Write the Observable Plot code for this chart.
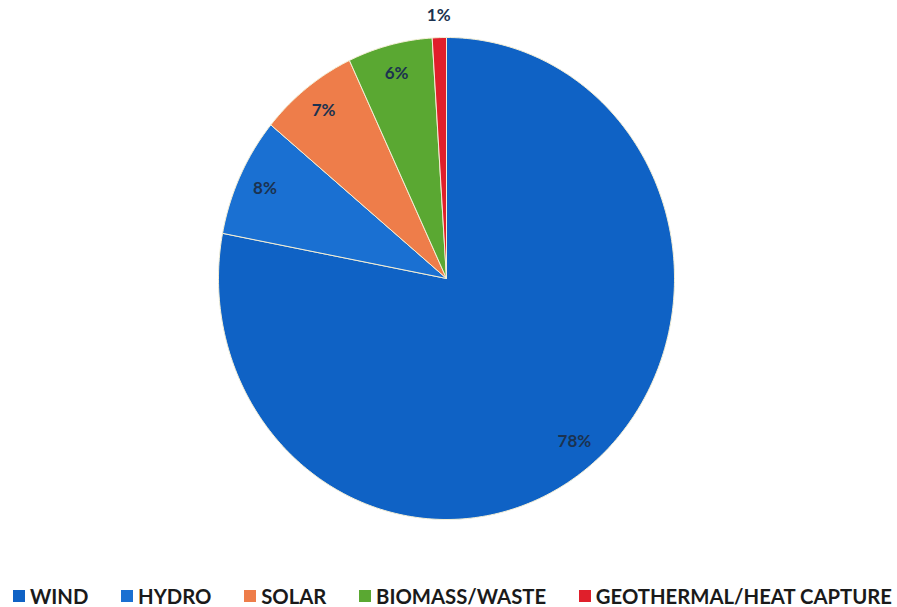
<!DOCTYPE html>
<html>
<head>
<meta charset="utf-8">
<script src="https://cdn.jsdelivr.net/npm/d3@7"></script>
<script src="https://cdn.jsdelivr.net/npm/@observablehq/plot@0.6"></script>
<style>
  html, body { margin: 0; padding: 0; background: #fff; }
  #chart { width: 897px; height: 607px; overflow: hidden; }
  .lg-swatches { font-family: Lato, "Open Sans", sans-serif; font-size: 20.3px; font-weight: bold; color: #1a1a1a; margin: 0; }
  .lg-swatches-wrap { display: flex; justify-content: space-between; align-items: center; min-height: 28px; height: 28px; padding: 0 5px 0 13px; box-sizing: border-box; width: 897px; flex-wrap: nowrap; }
  .lg-swatches-wrap .lg-swatch { margin-right: 0 !important; white-space: nowrap; }
  .lg-swatch > svg { margin-right: 5px !important; }
</style>
</head>
<body>
<div id="chart"></div>
<script>
const categories = ["WIND", "HYDRO", "SOLAR", "BIOMASS/WASTE", "GEOTHERMAL/HEAT CAPTURE"];
const shares = [78, 8, 7, 6, 1];
const labels = ["78%", "8%", "7%", "6%", "1%"];
const colors = ["#0f62c5", "#1a70d2", "#ee7d4a", "#5aa832", "#e01f2b"];

const total = d3.sum(shares);
const polys = [];
const labelPts = [];
let cum = 0;
categories.forEach((cat, i) => {
  const a0 = cum / total * 2 * Math.PI;
  cum += shares[i];
  const a1 = cum / total * 2 * Math.PI;
  const n = Math.max(2, Math.ceil((a1 - a0) / (2 * Math.PI) * 360));
  polys.push({cat, x: 0, y: 0});
  for (let k = 0; k <= n; k++) {
    const a = a0 + (a1 - a0) * k / n;
    polys.push({cat, x: Math.sin(a), y: Math.cos(a)});
  }
  polys.push({cat, x: 0, y: 0});
  const am = (a0 + a1) / 2;
  const r = shares[i] / total < 0.03 ? 1.09 : 0.88;
  labelPts.push({text: labels[i], x: r * Math.sin(am), y: r * Math.cos(am)});
});

const plot = Plot.plot({
  width: 897,
  height: 582,
  margin: 0,
  x: {domain: [-1, 1], range: [218, 674], axis: null},
  y: {domain: [-1, 1], range: [519, 37], axis: null},
  color: {domain: categories, range: colors},
  style: {background: "#fff"},
  marks: [
    Plot.line(polys, {x: "x", y: "y", z: "cat", fill: "cat", stroke: "#f4efd6", strokeWidth: 1, curve: "linear"}),
    Plot.text(labelPts, {x: "x", y: "y", text: "text", fill: "#1b3250", fontSize: 17, fontWeight: "bold", fontFamily: "Lato, sans-serif"})
  ]
});

const legend = Plot.legend({
  color: {domain: categories, range: colors},
  legend: "swatches",
  swatchSize: 12,
  className: "lg"
});

const root = document.getElementById("chart");
root.appendChild(plot);
root.appendChild(legend);
</script>
</body>
</html>
